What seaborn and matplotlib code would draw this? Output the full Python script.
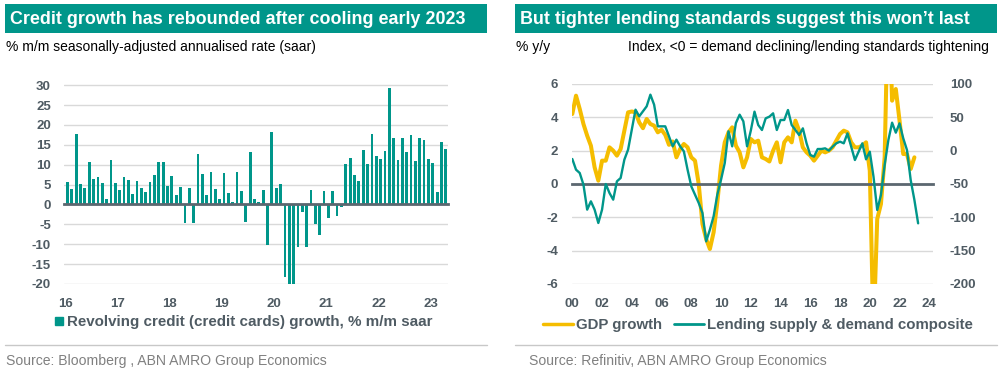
import numpy as np
import pandas as pd
import matplotlib
matplotlib.use("Agg")
import matplotlib.pyplot as plt
import seaborn as sns
from matplotlib.lines import Line2D
from matplotlib.patches import Rectangle

TEAL = "#00968a"
YELLOW = "#f5bd00"
GRID = "#d9d9d9"
AXIS = "#5b6770"
LABEL = "#4f5b63"
SOURCE = "#808080"

W, H = 1001, 372

# ---- left panel: revolving credit, monthly Jan 2016 - Apr 2023 (% m/m saar)
credit_years = ["16", "17", "18", "19", "20", "21", "22", "23"]
credit_growth = [
    5.6, 3.9, 17.6, 5.25, 4.1, 10.6, 6.3, 6.8, 5.5, 1.4, 11.1, 5.3,
    3.6, 6.8, 6.1, 2.6, 5.8, 4.1, 3.1, 5.6, 7.3, 10.8, 10.6, 4.6,
    7.1, 2.3, 4.4, -4.6, 4.1, -4.6, 12.75, 7.6, 2.5, 8.1, 3.8, 1.3,
    8.0, 3.0, 0.7, 8.25, 3.4, -4.4, 13.3, 1.5, 0.5, 3.7, -10.1, 18.3,
    4.25, 5.2, -18.2, -24.0, -21.0, -10.7, -1.8, -10.8, 3.6, -4.8, -7.75, 3.4,
    -3.5, 3.4, -2.8, -0.6, 10.1, 11.75, 7.5, 5.8, 13.6, 10.1, 17.8, 12.2,
    11.4, 13.5, 29.4, 16.6, 11.3, 16.75, 13.1, 17.5, 11.0, 16.7, 16.2, 11.5,
    10.4, 3.1, 15.6, 13.9,
]

# ---- right panel: quarterly from 2000Q1
gdp_growth = [
    4.2, 5.3, 4.5, 3.6,
    2.9, 2.3, 1.0, 0.2,
    1.4, 1.4, 2.2, 2.0,
    1.7, 2.1, 3.2, 4.3,
    4.35, 4.3, 3.7, 3.35,
    3.9, 3.6, 3.5, 3.1,
    3.25, 2.95, 2.35, 2.55,
    1.6, 2.1, 2.4, 2.2,
    1.6, 1.4, 0.0, -2.4,
    -3.3, -3.9, -2.9, -1.1,
    1.1, 2.5, 3.1, 3.4,
    2.3, 1.9, 1.0, 1.6,
    2.7, 2.5, 2.6, 1.6,
    1.5, 1.35, 2.0, 2.5,
    1.3, 2.5, 2.8, 2.5,
    3.8, 3.2, 2.2, 1.9,
    1.7, 1.4, 1.7, 2.0,
    1.9, 2.0, 2.2, 2.6,
    3.0, 3.2, 3.1, 2.5,
    2.2, 2.2, 2.3, 2.5,
    0.8, -9.0, -2.1, -1.2,
    1.6, 12.0, 5.0, 5.7,
    3.8, 1.8, 1.8, 0.9,
    1.6,
]
lending_composite = [
    -12.5, -28.5, -33.5, -51,
    -88.5, -76, -88.5, -108.5,
    -88.5, -50, -63.5, -73.5,
    -46, -41, -13.5, 1.5,
    31.5, 61.5, 51.5, 59,
    66.5, 84, 69, 36.5,
    36.5, 36.5, 21.5, 6.5,
    16.5, 6.5, -1, -28.5,
    -53.5, -66, -78.5, -93.5,
    -136, -118.5, -98.5, -66,
    -43.5, -18.5, 29, 6.5,
    41.5, 54, 44, 6.5,
    30, 58.5, 38.5, 31,
    48.5, 51, 56, 31,
    46, 46, 61, 38.5,
    31, 23.5, 33.5, 11,
    -6.5, -9, 2.5, 2.5,
    3.5, 0, 6, 11,
    13.5, 11, 26, 6,
    -14, -1.5, 11, -13,
    -1.5, -39, -89, -66.5,
    -21.5, 16, 42, 27,
    41, 18.5, 1, -44,
    -74, -109,
]
year_labels = ["00", "02", "04", "06", "08", "10", "12", "14", "16", "18", "20", "22", "24"]

sns.set_theme(style="white")
plt.rcParams["font.family"] = ["Liberation Sans", "DejaVu Sans"]
plt.rcParams["axes.unicode_minus"] = False

fig = plt.figure(figsize=(W / 100, H / 100), dpi=100)


def box(x0, y0, x1, y1):
    return [x0 / W, 1 - y1 / H, (x1 - x0) / W, (y1 - y0) / H]


def bold_ticks(labels):
    for lbl in labels:
        lbl.set_fontweight("bold")


def style_zero_axis(ax, ticks, labels, pad):
    ax.spines[["top", "left", "right"]].set_visible(False)
    ax.spines["bottom"].set_position(("data", 0))
    ax.spines["bottom"].set_color(AXIS)
    ax.spines["bottom"].set_linewidth(2)
    ax.spines["bottom"].set_zorder(3)
    ax.set_xticks(ticks)
    ax.tick_params(axis="x", length=4, width=1.5, color=AXIS, labelbottom=False)
    sec = ax.secondary_xaxis("bottom")
    sec.set_xticks(ticks, labels)
    sec.spines["bottom"].set_visible(False)
    sec.tick_params(length=0, pad=pad, labelsize=9.5, labelcolor=LABEL)
    bold_ticks(sec.get_xticklabels())
    ax.yaxis.grid(True, color=GRID, lw=1)
    ax.set_axisbelow(True)


# ---------------- left chart
ax1 = fig.add_axes(box(64, 84, 448, 284))
df_credit = pd.DataFrame({
    "month": pd.period_range("2016-01", periods=len(credit_growth), freq="M").astype(str),
    "growth": credit_growth,
})
sns.barplot(data=df_credit, x="month", y="growth", color=TEAL, saturation=1,
            width=0.64, linewidth=0, ax=ax1)
ax1.set_xlim(-0.8, 87.5)
ax1.set_ylim(-20, 30.3)
ax1.set_yticks(range(-20, 31, 5))
ax1.set_xlabel("")
ax1.set_ylabel("")
style_zero_axis(ax1, [12 * k - 0.5 for k in range(len(credit_years))], credit_years, 10)
ax1.tick_params(axis="y", length=0, pad=9.5, labelsize=9.5, labelcolor=LABEL)
bold_ticks(ax1.get_yticklabels())

# ---------------- right chart
ax2 = fig.add_axes(box(572, 84, 933, 284))
gdp_x = 2000 + np.arange(len(gdp_growth)) / 4
lend_x = 2000 + np.arange(len(lending_composite)) / 4
sns.lineplot(x=gdp_x, y=gdp_growth, ax=ax2, color=YELLOW, lw=2.9)
ax2.set_xlim(1999.98, 2024.25)
ax2.set_ylim(-6, 6)
ax2.set_yticks(range(-6, 7, 2))
style_zero_axis(ax2, range(2000, 2025, 2), year_labels, 10)
ax2.tick_params(axis="y", length=0, pad=10, labelsize=9.5, labelcolor=LABEL)
bold_ticks(ax2.get_yticklabels())

ax3 = ax2.twinx()
sns.lineplot(x=lend_x, y=lending_composite, ax=ax3, color=TEAL, lw=1.7)
ax3.set_ylim(-200, 100)
ax3.set_yticks(range(-200, 101, 50))
for s in ax3.spines.values():
    s.set_visible(False)
ax3.tick_params(axis="x", bottom=False, labelbottom=False)
ax3.tick_params(axis="y", length=0, pad=12, labelsize=9.5, labelcolor=LABEL)
bold_ticks(ax3.get_yticklabels())
ax3.set_ylabel("")

# ---------------- headers, subtitles, legends, sources
for x0, x1, title in [(5, 487, "Credit growth has rebounded after cooling early 2023"),
                      (515, 997, "But tighter lending standards suggest this won\u2019t last")]:
    fig.add_artist(Rectangle((x0 / W, 1 - 33 / H), (x1 - x0) / W, 29 / H,
                             transform=fig.transFigure, color=TEAL, lw=0))
    fig.text((x0 + 5) / W, 1 - 19 / H, title, color="white", fontsize=12.9,
             fontweight="bold", va="center")
    fig.add_artist(Line2D([x0 / W, x1 / W], [1 - 345 / H] * 2, color="#c8c8c8", lw=1))

fig.text(6 / W, 1 - 47 / H, "% m/m seasonally-adjusted annualised rate (saar)",
         fontsize=10, color="black", va="center")
fig.text(516 / W, 1 - 47 / H, "% y/y", fontsize=10, color="black", va="center")
fig.text(989 / W, 1 - 47 / H, "Index, <0 = demand declining/lending standards tightening",
         fontsize=10, color="black", va="center", ha="right")

fig.legend(handles=[Line2D([], [], marker="s", ls="none", color=TEAL, markersize=6)],
           labels=["Revolving credit (credit cards) growth, % m/m saar"],
           loc="center", bbox_to_anchor=(243.5 / W, 1 - 322 / H), frameon=False,
           handlelength=0.6, handletextpad=0.25, prop={"size": 10.9, "weight": "bold"},
           labelcolor=LABEL)
fig.legend(handles=[Line2D([], [], color=YELLOW, lw=2.5),
                    Line2D([], [], color=TEAL, lw=2)],
           labels=["GDP growth", "Lending supply & demand composite"],
           loc="center", bbox_to_anchor=(758 / W, 1 - 325 / H), frameon=False,
           ncol=2, handlelength=2.0, handletextpad=0.2, columnspacing=0.8,
           prop={"size": 10.8, "weight": "bold"}, labelcolor=LABEL)

fig.text(6 / W, 1 - 361 / H, "Source: Bloomberg , ABN AMRO Group Economics",
         fontsize=10.1, color=SOURCE, va="center")
fig.text(529 / W, 1 - 361 / H, "Source: Refinitiv, ABN AMRO Group Economics",
         fontsize=10.1, color=SOURCE, va="center")

fig.savefig("out.png", dpi=100)
